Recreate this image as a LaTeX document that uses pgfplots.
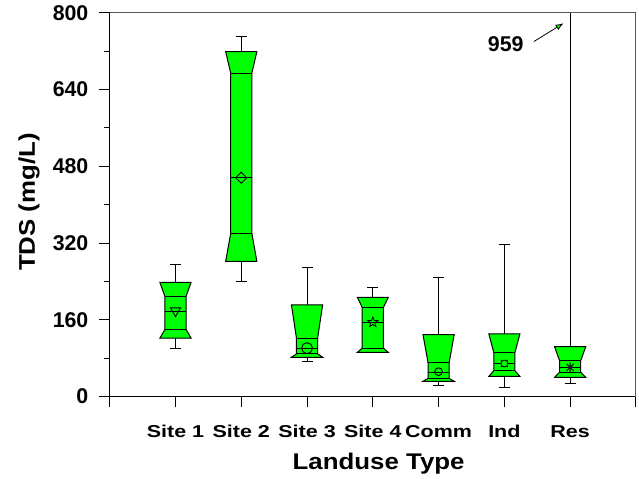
\documentclass[border=0pt]{standalone}
\usepackage{fontspec}
\setmainfont{Liberation Sans}
\newfontfamily\xtfont{Liberation Sans}[FakeStretch=1.25]
\newfontfamily\lbfont{Liberation Sans}[FakeStretch=1.14]
\usepackage{pgfplots}
\pgfplotsset{compat=1.18}
\usetikzlibrary{arrows.meta}
\definecolor{boxgreen}{RGB}{0,255,0}

\pgfdeclareplotmark{ostar}{%
  \pgfpathmoveto{\pgfpointpolar{90}{\pgfplotmarksize}}%
  \pgfpathlineto{\pgfpointpolar{126}{0.42\pgfplotmarksize}}%
  \pgfpathlineto{\pgfpointpolar{162}{\pgfplotmarksize}}%
  \pgfpathlineto{\pgfpointpolar{198}{0.42\pgfplotmarksize}}%
  \pgfpathlineto{\pgfpointpolar{234}{\pgfplotmarksize}}%
  \pgfpathlineto{\pgfpointpolar{270}{0.42\pgfplotmarksize}}%
  \pgfpathlineto{\pgfpointpolar{306}{\pgfplotmarksize}}%
  \pgfpathlineto{\pgfpointpolar{342}{0.42\pgfplotmarksize}}%
  \pgfpathlineto{\pgfpointpolar{18}{\pgfplotmarksize}}%
  \pgfpathlineto{\pgfpointpolar{54}{0.42\pgfplotmarksize}}%
  \pgfpathclose
  \pgfusepathqstroke}
\pgfdeclareplotmark{ocircx}{%
  \pgfpathmoveto{\pgfpointpolar{45}{1.45\pgfplotmarksize}}%
  \pgfpathlineto{\pgfpointpolar{225}{1.45\pgfplotmarksize}}%
  \pgfpathmoveto{\pgfpointpolar{135}{1.45\pgfplotmarksize}}%
  \pgfpathlineto{\pgfpointpolar{315}{1.45\pgfplotmarksize}}%
  \pgfusepathqstroke
  \pgfpathcircle{\pgfpointorigin}{\pgfplotmarksize}%
  \pgfusepathqfillstroke}
\pgfdeclareplotmark{ast8}{%
  \pgfpathmoveto{\pgfpointpolar{0}{\pgfplotmarksize}}\pgfpathlineto{\pgfpointpolar{180}{\pgfplotmarksize}}%
  \pgfpathmoveto{\pgfpointpolar{45}{\pgfplotmarksize}}\pgfpathlineto{\pgfpointpolar{225}{\pgfplotmarksize}}%
  \pgfpathmoveto{\pgfpointpolar{90}{\pgfplotmarksize}}\pgfpathlineto{\pgfpointpolar{270}{\pgfplotmarksize}}%
  \pgfpathmoveto{\pgfpointpolar{135}{\pgfplotmarksize}}\pgfpathlineto{\pgfpointpolar{315}{\pgfplotmarksize}}%
  \pgfusepathqstroke}

% #1 position, #2 lower whisker, #3 Q1, #4 notch low, #5 median, #6 notch high, #7 Q3, #8 upper whisker
\newcommand{\nbox}[8]{%
  \pgfmathsetmacro{\xa}{#1-0.237}\pgfmathsetmacro{\xb}{#1+0.237}%
  \pgfmathsetmacro{\na}{#1-0.161}\pgfmathsetmacro{\nb}{#1+0.161}%
  \pgfmathsetmacro{\ca}{#1-0.083}\pgfmathsetmacro{\cb}{#1+0.083}%
  \addplot[black, line width=0.6pt] coordinates {(#1,#7) (#1,#8)};
  \addplot[black, line width=0.6pt] coordinates {(\ca,#8) (\cb,#8)};
  \addplot[black, line width=0.6pt] coordinates {(#1,#3) (#1,#2)};
  \addplot[black, line width=0.6pt] coordinates {(\ca,#2) (\cb,#2)};
  \addplot[fill=boxgreen, draw=black, line width=0.75pt] coordinates {(\xa,#7) (\xb,#7) (\nb,#6) (\nb,#4) (\xb,#3) (\xa,#3) (\na,#4) (\na,#6)} -- cycle;
  \addplot[black, line width=0.75pt] coordinates {(\na,#6) (\nb,#6)};
  \addplot[black, line width=0.75pt] coordinates {(\na,#4) (\nb,#4)};
  \addplot[black, line width=0.75pt] coordinates {(\na,#5) (\nb,#5)};
}

\begin{document}
\begin{tikzpicture}
\path[use as bounding box] (-82.3pt,-61.7pt) rectangle (397pt,297.5pt);
\begin{axis}[
  name=ax, at={(0,0)}, anchor=south west,
  scale only axis, width=394.7pt, height=288pt,
  xmin=0, xmax=8, ymin=0, ymax=800,
  axis lines=left, axis line style={-, line width=1pt, black},
  xtick={0,1,2,3,4,5,6,7,8},
  xticklabels={{},Site 1,Site 2,Site 3,Site 4,Comm,Ind,Res,{}},
  ytick={0,160,320,480,640,800}, minor ytick={80,240,400,560,720},
  tick align=outside, major tick length=8pt, minor tick length=4.5pt,
  tick style={black, line width=0.8pt},
  /pgf/number format/assume math mode=true,
  yticklabel style={font=\fontsize{16}{16}\selectfont\bfseries, xshift=-4.5pt},
  xticklabel style={font=\xtfont\fontsize{12.9}{13}\selectfont\bfseries, yshift=-10pt},
  xlabel={Landuse Type},
  xlabel style={font=\lbfont\fontsize{17}{17}\selectfont\bfseries, at={(axis description cs:0.511,-0.175)}, anchor=center},
  ylabel={TDS (mg/L)},
  ylabel style={font=\lbfont\fontsize{17}{17}\selectfont\bfseries, at={(axis description cs:-0.1533,0.507)}, anchor=center, rotate=0},
]
\nbox{1}{101}{122}{140}{178}{209}{238}{276}
\nbox{2}{240}{282}{340}{456}{674}{719}{750}
\nbox{3}{74}{82}{89}{101}{122}{191}{269}
\nbox{4}{92}{92}{101}{155}{186}{207}{228}
\nbox{5}{23}{32}{38}{51}{71}{129}{249}
\nbox{6}{20}{42}{54}{69}{92}{131}{317}
\nbox{7}{28}{40}{51}{61}{75}{104}{959}
% means
\addplot[only marks, mark=triangle, mark size=4.4pt, mark options={rotate=180, draw=black, line width=0.7pt}] coordinates {(1,179)};
\addplot[only marks, mark=square, mark size=2.9pt, mark options={rotate=45, draw=black, line width=0.7pt}] coordinates {(2,456)};
\addplot[only marks, mark=o, mark size=4.1pt, mark options={draw=black, line width=0.7pt}] coordinates {(3,101)};
\addplot[only marks, mark=ostar, mark size=4pt, mark options={draw=black, line width=0.6pt}] coordinates {(4,155)};
\addplot[only marks, mark=o, mark size=2.9pt, mark options={draw=black, line width=0.7pt}] coordinates {(5,52)};
\addplot[only marks, mark=ocircx, mark size=2.6pt, mark options={draw=black, fill=boxgreen, line width=0.6pt}] coordinates {(6,69)};
\addplot[only marks, mark=ast8, mark size=3.8pt, mark options={draw=black, line width=0.7pt}] coordinates {(7,61)};
% annotation for clipped whisker
\node[font=\fontsize{16}{16}\selectfont\bfseries] at (axis cs:6.02,734) {959};
\draw[black, line width=0.6pt, -{Latex[length=6pt, width=4.5pt, fill=boxgreen]}] (axis cs:6.45,740) -- (axis cs:6.90,778);
\end{axis}
\draw[black!65, line width=0.8pt] (ax.north west) -- (ax.north east) -- (ax.south east);
\end{tikzpicture}
\end{document}
